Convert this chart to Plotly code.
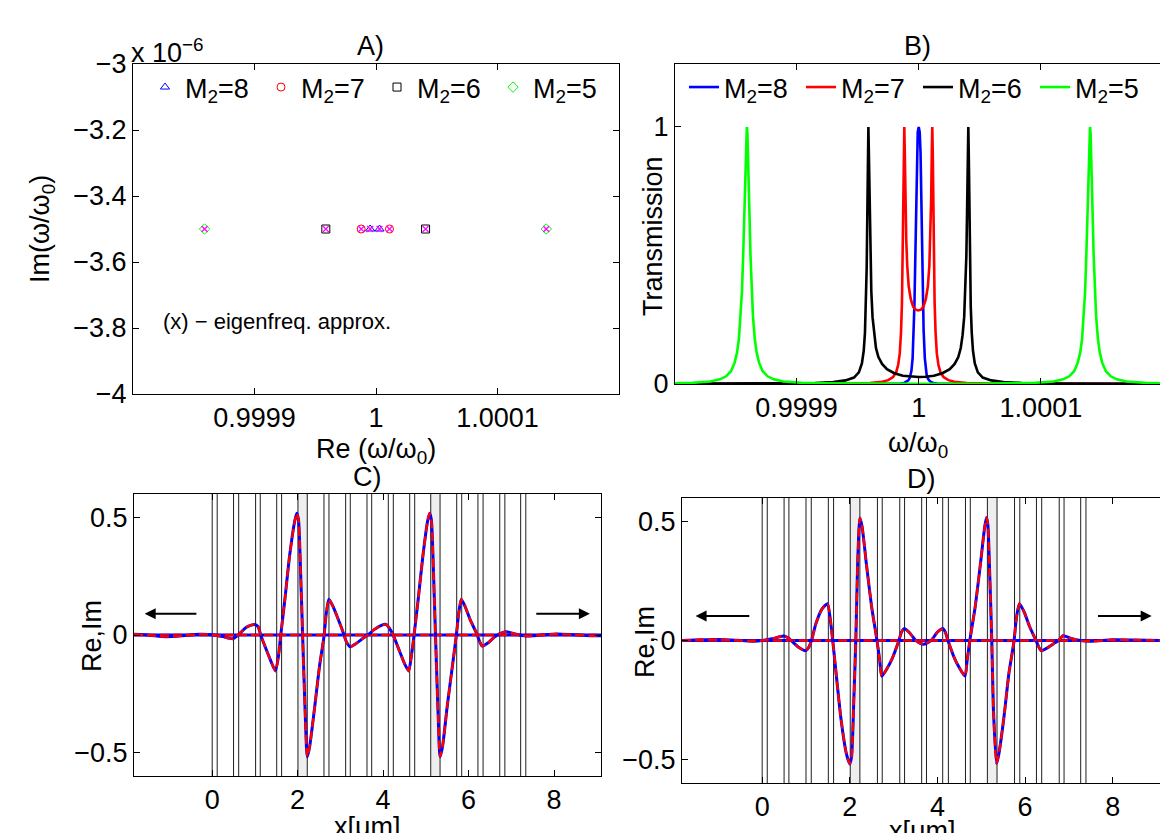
import plotly.graph_objects as go

W, H = 1160, 833
FONT = "Liberation Sans, Arial, Helvetica, sans-serif"
FS = 27

# ---------------- data ----------------
series_labels = ["M<sub>2</sub>=8", "M<sub>2</sub>=7", "M<sub>2</sub>=6", "M<sub>2</sub>=5"]

# Panel A: eigenfrequencies. Re as (Re(w/w0)-1) in units of 1e-6, Im(w/w0) in units of 1e-6
eig_re_m8 = [-4.8, 2.9]
eig_re_m7 = [-12.2, 11.1]
eig_re_m6 = [-41.3, 40.8]
eig_re_m5 = [-141.1, 140.1]
eig_im = [-3.5, -3.5]
approx_re = [-141.1, -41.3, -12.2, -4.8, 2.9, 11.1, 40.8, 140.1]
approx_im = [-3.5, -3.5, -3.5, -3.5, -3.5, -3.5, -3.5, -3.5]

# Panel B: transmission, x as (w/w0 - 1) in units of 1e-6
t_m8_x = [-200, -60, -30, -20, -15, -12, -10, -8.5, -7.5, -6.5, -6, -5, -4, -3.5, -3, -2.5, -2, -1.5, -0.8, 0,
          0.8, 1.5, 2, 2.5, 3, 3.5, 4, 5, 6, 6.5, 7.5, 8.5, 10, 12, 15, 20, 30, 60, 200]
t_m8_y = [0, 0.0002, 0.0005, 0.001, 0.002, 0.004, 0.008, 0.014, 0.022, 0.035, 0.05, 0.1, 0.21, 0.31, 0.44, 0.6, 0.78, 0.9, 0.98, 1.0,
          0.98, 0.9, 0.78, 0.6, 0.44, 0.31, 0.21, 0.1, 0.05, 0.035, 0.022, 0.014, 0.008, 0.004, 0.002, 0.001, 0.0005, 0.0002, 0]
t_m7_x = [-200, -100, -60, -40, -30, -25, -21, -18.5, -16.8, -15.5, -14.5, -13.7, -13.1, -12.6, -12.2, -11.8, -11.4, -10.9,
          -10.2, -9.4, -8.2, -6.5, -4.5, -2.5, -0.35, 1.8, 3.8, 5.8, 7.5, 8.7, 9.5, 10.2, 10.7, 11.1, 11.5, 11.9, 12.4,
          13.0, 13.8, 14.8, 16.1, 17.8, 20.3, 24.3, 29.3, 39.3, 60, 100, 200]
t_m7_y = [0, 0.0005, 0.0015, 0.004, 0.009, 0.015, 0.027, 0.045, 0.075, 0.12, 0.2, 0.32, 0.5, 0.7, 0.9, 1.0, 0.9, 0.72,
          0.56, 0.46, 0.38, 0.33, 0.3, 0.289, 0.286, 0.289, 0.3, 0.33, 0.38, 0.46, 0.56, 0.72, 0.9, 1.0, 0.9, 0.7, 0.5,
          0.32, 0.2, 0.12, 0.075, 0.045, 0.027, 0.015, 0.009, 0.004, 0.0015, 0.0005, 0]
t_m6_x = [-200, -150, -110, -85, -70, -60, -53, -49, -46.5, -45, -44, -43.2, -42.6, -42.1, -41.7, -41.2, -40.7, -40.2,
          -39.6, -38.8, -37.8, -36.5, -35, -33, -30, -26, -20, -13, -6, 0, 5.4, 12.4, 19.4, 25.4, 29.4, 32.4, 34.4,
          35.9, 37.2, 38.2, 39.0, 39.6, 40.1, 40.6, 41.1, 41.5, 42.0, 42.6, 43.4, 44.4, 45.9, 48.4, 52.4, 59.4, 69.4,
          84.4, 110, 150, 200]
t_m6_y = [0.0005, 0.001, 0.002, 0.004, 0.008, 0.014, 0.025, 0.045, 0.08, 0.13, 0.2, 0.3, 0.45, 0.65, 0.85, 1.0, 0.87, 0.68,
          0.5, 0.36, 0.26, 0.19, 0.14, 0.105, 0.078, 0.058, 0.042, 0.032, 0.028, 0.027, 0.028, 0.032, 0.042, 0.058, 0.078,
          0.105, 0.14, 0.19, 0.26, 0.36, 0.5, 0.68, 0.87, 1.0, 0.85, 0.65, 0.45, 0.3, 0.2, 0.13, 0.08, 0.045, 0.025,
          0.014, 0.008, 0.004, 0.002, 0.001, 0.0005]
t_m5_x = [-200, -185, -170.7, -162.7, -157.7, -153.7, -150.7, -148.7, -147.2, -145.7, -144.7, -143.7, -142.7, -142.2,
          -141.7, -141.2, -140.7, -140.2, -139.7, -139.2, -138.7, -137.7, -136.7, -135.7, -134.2, -132.7, -130.7,
          -127.7, -123.7, -118.7, -110.7, -95.7, -80.7, -50, 0, 50, 80.2, 95.2, 110.2, 118.2, 123.2, 127.2, 130.2,
          132.2, 133.7, 135.2, 136.2, 137.2, 138.2, 138.7, 139.2, 139.7, 140.2, 140.7, 141.2, 141.7, 142.2, 143.2,
          144.2, 145.2, 146.7, 148.2, 150.2, 153.2, 157.2, 162.2, 170.2, 185.2, 200]
t_m5_y = [0.0026, 0.0046, 0.01, 0.018, 0.03, 0.05, 0.083, 0.123, 0.175, 0.265, 0.36, 0.5, 0.69, 0.8,
          0.9, 0.973, 1.0, 0.973, 0.9, 0.8, 0.69, 0.5, 0.36, 0.265, 0.175, 0.123, 0.083,
          0.05, 0.03, 0.018, 0.01, 0.0045, 0.0026, 0.0012, 0.0008, 0.0012, 0.0026, 0.0045, 0.01, 0.018, 0.03, 0.05, 0.083,
          0.123, 0.175, 0.265, 0.36, 0.5, 0.69, 0.8, 0.9, 0.973, 1.0, 0.973, 0.9, 0.8, 0.69, 0.5,
          0.36, 0.265, 0.175, 0.123, 0.083, 0.05, 0.03, 0.018, 0.01, 0.0045, 0.0026]

# Panel C: field profile (x in um, Re part); Im part ~ 0
c_re_pts = [(-1.83, 0.003), (-1.47, -0.001), (-1.08, -0.007), (-0.69, -0.003), (-0.30, 0.003), (0.0, 0.001),
            (0.25, -0.007), (0.48, -0.016), (0.63, 0.004), (0.80, 0.033), (0.99, 0.045), (1.07, 0.036),
            (1.15, -0.007), (1.27, -0.064), (1.38, -0.114), (1.48, -0.153), (1.55, -0.092), (1.60, -0.007),
            (1.70, 0.149), (1.81, 0.334), (1.93, 0.483), (1.98, 0.518), (2.02, 0.49), (2.07, 0.263),
            (2.12, -0.021), (2.18, -0.348), (2.225, -0.518), (2.28, -0.476), (2.40, -0.305), (2.51, -0.135),
            (2.616, -0.007), (2.67, 0.092), (2.73, 0.152), (2.83, 0.121), (2.94, 0.071), (3.06, 0.014),
            (3.14, -0.028), (3.23, -0.05), (3.37, -0.036), (3.53, -0.014), (3.64, 0.0), (3.80, 0.024),
            (3.96, 0.041), (4.07, 0.045), (4.15, 0.028), (4.25, -0.007), (4.39, -0.071), (4.50, -0.121),
            (4.60, -0.153), (4.66, -0.092), (4.72, -0.007), (4.82, 0.149), (4.93, 0.334), (5.04, 0.483),
            (5.09, 0.518), (5.13, 0.49), (5.18, 0.263), (5.23, -0.021), (5.29, -0.348), (5.333, -0.518),
            (5.39, -0.476), (5.50, -0.305), (5.62, -0.135), (5.71, -0.007), (5.77, 0.092), (5.83, 0.152),
            (5.92, 0.121), (6.04, 0.064), (6.18, 0.01), (6.26, -0.028), (6.32, -0.047), (6.46, -0.033),
            (6.59, -0.011), (6.71, 0.004), (6.88, 0.014), (7.04, 0.007), (7.22, -0.001), (7.35, -0.004),
            (7.66, -0.001), (8.06, 0.004), (8.45, 0.001), (8.84, -0.003), (9.10, -0.003)]
c_im_pts = [(-1.83, 0.0), (0.0, 0.0), (2.0, 0.0), (4.0, 0.0), (6.0, 0.0), (8.0, 0.0), (9.10, 0.0)]
c_layers = [0.0, 0.117, 0.50, 0.62, 1.016, 1.125, 1.51, 1.625, 2.007, 2.225, 2.616, 2.733, 3.124, 3.232,
            3.623, 3.733, 4.122, 4.239, 4.623, 4.740, 5.115, 5.333, 5.723, 5.84, 6.22, 6.34, 6.73, 6.85, 7.22, 7.34]
c_defects = [(2.007, 2.225), (5.115, 5.333)]

# Panel D
d_re_pts = [(-1.83, 0.0), (-1.4, 0.003), (-1.0, 0.004), (-0.6, 0.001), (-0.2, -0.003), (0.0, 0.0), (0.22, 0.007),
            (0.49, 0.019), (0.60, 0.01), (0.68, -0.004), (0.84, -0.03), (0.99, -0.043), (1.07, -0.026),
            (1.13, 0.003), (1.22, 0.067), (1.36, 0.131), (1.49, 0.155), (1.55, 0.096), (1.61, 0.0),
            (1.70, -0.161), (1.80, -0.332), (1.92, -0.475), (2.0, -0.52), (2.04, -0.49), (2.09, -0.26),
            (2.14, 0.02), (2.18, 0.33), (2.23, 0.516), (2.28, 0.48), (2.38, 0.32), (2.50, 0.14), (2.62, 0.0),
            (2.68, -0.08), (2.73, -0.15), (2.85, -0.118), (2.97, -0.075), (3.12, 0.0), (3.18, 0.035),
            (3.24, 0.05), (3.35, 0.035), (3.51, 0.0), (3.68, -0.016), (3.85, 0.0), (4.0, 0.035), (4.13, 0.05),
            (4.18, 0.035), (4.24, 0.0), (4.39, -0.075), (4.51, -0.118), (4.63, -0.15), (4.68, -0.08),
            (4.74, 0.0), (4.86, 0.14), (4.98, 0.32), (5.08, 0.48), (5.12, 0.518), (5.15, 0.49), (5.19, 0.3),
            (5.24, 0.0), (5.28, -0.3), (5.35, -0.518), (5.40, -0.48), (5.52, -0.32), (5.63, -0.14),
            (5.75, 0.0), (5.80, 0.09), (5.87, 0.155), (5.98, 0.12), (6.10, 0.06), (6.25, 0.0), (6.32, -0.03),
            (6.37, -0.043), (6.52, -0.03), (6.68, -0.01), (6.76, 0.0), (6.87, 0.02), (7.03, 0.01),
            (7.26, 0.0), (7.5, -0.003), (8.0, 0.003), (8.5, 0.002), (9.08, 0.0)]
d_im_pts = [(-1.83, 0.0), (0.0, 0.0), (2.0, 0.0), (4.0, 0.0), (6.0, 0.0), (8.0, 0.0), (9.08, 0.0)]
d_layers = [0.0, 0.116, 0.50, 0.61, 1.0, 1.12, 1.51, 1.63, 2.01, 2.23, 2.63, 2.74, 3.14, 3.25, 3.64, 3.75,
            4.12, 4.25, 4.64, 4.75, 5.14, 5.36, 5.76, 5.88, 6.26, 6.38, 6.78, 6.89, 7.27, 7.39]
d_defects = [(2.01, 2.23), (5.14, 5.36)]

# arrows (tail x, head x, y)
c_arrows = [(-0.335, -1.58, 0.09), (7.55, 8.84, 0.09)]
d_arrows = [(-0.26, -1.52, 0.103), (7.63, 8.89, 0.103)]

# ---------------- figure ----------------
BLUE, RED, BLACK, GREEN, MAG = "#0000ff", "#ff0000", "#000000", "#00ff00", "#ff00ff"
colors = [BLUE, RED, BLACK, GREEN]

fig = go.Figure()

# Panel A
symbols = ["triangle-up-open", "circle-open", "square-open", "diamond-open"]
for lab, xs, col, sym in zip(series_labels, [eig_re_m8, eig_re_m7, eig_re_m6, eig_re_m5], colors, symbols):
    fig.add_trace(go.Scatter(x=xs, y=eig_im, mode="markers", name=lab, legend="legend",
                             marker=dict(symbol=sym, size=8, color=col, line=dict(width=1, color=col)),
                             xaxis="x", yaxis="y"))
fig.add_trace(go.Scatter(x=approx_re, y=approx_im, mode="markers", showlegend=False,
                         marker=dict(symbol="x-thin-open", size=6, color=MAG, line=dict(width=1.2, color=MAG)),
                         xaxis="x", yaxis="y"))

# Panel B
for lab, xs, ys, col in zip(series_labels, [t_m8_x, t_m7_x, t_m6_x, t_m5_x], [t_m8_y, t_m7_y, t_m6_y, t_m5_y], colors):
    fig.add_trace(go.Scatter(x=xs, y=ys, mode="lines", name=lab, legend="legend2",
                             line=dict(color=col, width=2.6), xaxis="x2", yaxis="y2"))

# Panels C, D
def add_field(pts_list, xa, ya):
    for pts in pts_list:
        xs = [p[0] for p in pts]
        ys = [p[1] for p in pts]
        fig.add_trace(go.Scatter(x=xs, y=ys, mode="lines", showlegend=False,
                                 line=dict(color=BLUE, width=3, shape="spline", smoothing=0.6), xaxis=xa, yaxis=ya))
        fig.add_trace(go.Scatter(x=xs, y=ys, mode="lines", showlegend=False,
                                 line=dict(color=RED, width=2.4, dash="9px,4px", shape="spline", smoothing=0.6),
                                 xaxis=xa, yaxis=ya))

add_field([c_im_pts, c_re_pts], "x3", "y3")
add_field([d_im_pts, d_re_pts], "x4", "y4")

shapes = []
for layers, defects, xr, yr in [(c_layers, c_defects, "x3", "y3 domain"), (d_layers, d_defects, "x4", "y4 domain")]:
    for a, b in defects:
        shapes.append(dict(type="rect", xref=xr, yref=yr, x0=a, x1=b, y0=0, y1=1,
                           fillcolor="#eeeeee", line=dict(width=0), layer="below"))
    for xv in layers:
        shapes.append(dict(type="line", xref=xr, yref=yr, x0=xv, x1=xv, y0=0, y1=1,
                           line=dict(color="#1e1e1e", width=1), layer="below"))

annotations = []
def ann(text, x, y, size=FS, xanchor="center", yanchor="middle", angle=0):
    annotations.append(dict(text=text, x=x / W, y=1 - y / H, xref="paper", yref="paper", showarrow=False,
                            xanchor=xanchor, yanchor=yanchor, textangle=angle,
                            font=dict(size=size, color="black", family=FONT)))

ann("A)", 370, 46)
ann("B)", 917, 46)
ann("C)", 367, 477)
ann("D)", 921, 479)
ann("x 10<sup>−6</sup>", 129, 70, xanchor="left", yanchor="bottom")
ann("(x) − eigenfreq. approx.", 277, 322, size=22)
ann("Re (ω/ω<sub>0</sub>)", 376, 432, yanchor="top")
ann("ω/ω<sub>0</sub>", 918, 426, yanchor="top")
ann("x[μm]", 367, 810, yanchor="top")
ann("x[μm]", 922, 814, yanchor="top")
ann("Im(ω/ω<sub>0</sub>)", 42, 229, angle=-90)
ann("Transmission", 653, 236, angle=-90)
ann("Re,Im", 92, 636, angle=-90)
ann("Re,Im", 645, 642, angle=-90)

for arrows, xr, yr in [(c_arrows, "x3", "y3"), (d_arrows, "x4", "y4")]:
    for x0, x1, yv in arrows:
        annotations.append(dict(x=x1, y=yv, ax=x0, ay=yv, xref=xr, yref=yr, axref=xr, ayref=yr,
                                showarrow=True, arrowhead=2, arrowsize=1.1, arrowwidth=2, arrowcolor="black", text=""))

def dom_x(a, b):
    return [a / W, min(b / W, 1.0)]

def dom_y(top, bottom):
    return [1 - bottom / H, 1 - top / H]

axis_common = dict(showgrid=False, zeroline=False, showline=True, linecolor="black", linewidth=1,
                   ticks="inside", ticklen=6, tickcolor="black", tickwidth=1, automargin=False,
                   tickfont=dict(size=FS, color="black", family=FONT))

ppm_ticks = dict(tickvals=[-100, 0, 100], ticktext=["0.9999", "1", "1.0001"])
a_yt = [-4, -3.8, -3.6, -3.4, -3.2, -3]
field_xt = [0, 2, 4, 6, 8]
field_yt = [-0.5, 0, 0.5]

fig.update_layout(
    width=W, height=H, margin=dict(l=0, r=0, t=0, b=0, autoexpand=False),
    paper_bgcolor="white", plot_bgcolor="white",
    font=dict(family=FONT, size=FS, color="black"),
    xaxis=dict(domain=dom_x(133, 619), range=[-200, 200], anchor="y", mirror="ticks", **ppm_ticks, **axis_common),
    yaxis=dict(domain=dom_y(64, 394), range=[-4, -3], anchor="x", mirror="ticks", tickvals=a_yt,
               ticktext=["−4", "−3.8", "−3.6", "−3.4", "−3.2", "−3"], **axis_common),
    xaxis2=dict(domain=dom_x(675, 1160), range=[-199.5, 197.5], anchor="y2", mirror="ticks", **ppm_ticks, **axis_common),
    yaxis2=dict(domain=dom_y(64, 384), range=[0, 1.245], anchor="x2", mirror=False, tickvals=[0, 1],
                ticktext=["0", "1"], **axis_common),
    xaxis3=dict(domain=dom_x(134, 601), range=[-1.83, 9.1], anchor="y3", mirror="ticks", tickvals=field_xt, **axis_common),
    yaxis3=dict(domain=dom_y(494, 776), range=[-0.6, 0.6], anchor="x3", mirror="ticks", tickvals=field_yt,
                ticktext=["−0.5", "0", "0.5"], **axis_common),
    xaxis4=dict(domain=dom_x(682, 1160), range=[-1.83, 9.08], anchor="y4", mirror="ticks", tickvals=field_xt, **axis_common),
    yaxis4=dict(domain=dom_y(498, 783), range=[-0.6, 0.6], anchor="x4", mirror=False, tickvals=field_yt,
                ticktext=["−0.5", "0", "0.5"], **axis_common),
    legend=dict(x=145 / W, y=1 - 63 / H, xanchor="left", yanchor="top", orientation="h",
                font=dict(size=FS, family=FONT), bgcolor="rgba(0,0,0,0)", entrywidth=71, entrywidthmode="pixels"),
    legend2=dict(x=684 / W, y=1 - 63 / H, xanchor="left", yanchor="top", orientation="h",
                 font=dict(size=FS, family=FONT), bgcolor="rgba(0,0,0,0)", entrywidth=72, entrywidthmode="pixels"),
    shapes=shapes,
    annotations=annotations,
)

fig.write_html("out.html", config={"displayModeBar": False},
               post_script="document.body.style.margin='0px';document.body.style.overflow='hidden';")
